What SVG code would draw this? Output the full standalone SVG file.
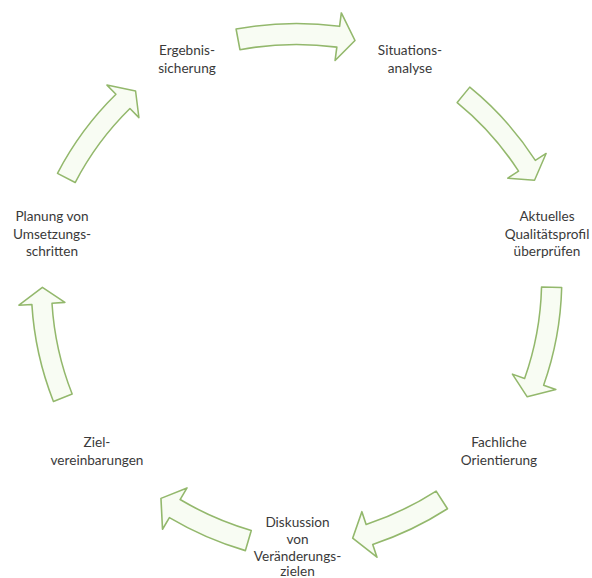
<svg xmlns="http://www.w3.org/2000/svg" xmlns:xlink="http://www.w3.org/1999/xlink" width="592" height="578" viewBox="0 0 592 578">
<style>
.lbl{font-family:Lato,"Liberation Sans",sans-serif;font-size:13.6px;fill:#3a3a3a;text-anchor:middle}
.arr{fill:#f8fcf3;stroke:#93b86c;stroke-width:1.6;stroke-linejoin:round}
</style>
<defs>
<path id="arrL" d="M -56.56,15.71 L -60.40,-4.93 A 330.5 330.5 0 0 1 43.08,-7.68 L 44.84,-21.07 L 58.48,6.5 L 38.58,26.52 L 40.34,13.14 A 309.5 309.5 0 0 0 -56.56,15.71 Z"/>
<path id="arrS" d="M -46.91,14.07 L -50.09,-6.68 A 330.5 330.5 0 0 1 32.71,-8.88 L 34.05,-22.31 L 48.5,5 L 29.30,25.45 L 30.63,12.02 A 309.5 309.5 0 0 0 -46.91,14.07 Z"/>
</defs>
<rect width="592" height="578" fill="#ffffff"/>
<g id="connectors">
<use class="arr" xlink:href="#arrL" href="#arrL" transform="translate(296.5,34)"/>
<use class="arr" xlink:href="#arrL" href="#arrL" transform="translate(503.3,133.9) rotate(49.7) scale(0.95)"/>
<use class="arr" xlink:href="#arrL" href="#arrL" transform="translate(545,343.2) rotate(102) scale(0.96)"/>
<use class="arr" xlink:href="#arrS" href="#arrS" transform="translate(399,523) rotate(156)"/>
<use class="arr" xlink:href="#arrS" href="#arrS" transform="translate(202.8,523.4) rotate(205)"/>
<use class="arr" xlink:href="#arrL" href="#arrL" transform="translate(47,343.6) rotate(-101) scale(0.96)"/>
<use class="arr" xlink:href="#arrL" href="#arrL" transform="translate(96.5,131) rotate(-52) scale(0.95)"/>
</g>
<g id="node-ergebnissicherung">
<text class="lbl" x="187" y="55">Ergebnis-</text>
<text class="lbl" x="187" y="72.5">sicherung</text>
</g>
<g id="node-situationsanalyse">
<text class="lbl" x="410" y="55">Situations-</text>
<text class="lbl" x="410" y="72.5">analyse</text>
</g>
<g id="node-qualitaetsprofil">
<text class="lbl" x="547" y="221">Aktuelles</text>
<text class="lbl" x="547" y="238.5">Qualitätsprofil</text>
<text class="lbl" x="547" y="256">überprüfen</text>
</g>
<g id="node-fachliche-orientierung">
<text class="lbl" x="499" y="447">Fachliche</text>
<text class="lbl" x="499" y="464.5">Orientierung</text>
</g>
<g id="node-diskussion">
<text class="lbl" x="297.5" y="527">Diskussion</text>
<text class="lbl" x="297.5" y="544">von</text>
<text class="lbl" x="297.5" y="561">Veränderungs-</text>
<text class="lbl" x="297.5" y="576">zielen</text>
</g>
<g id="node-zielvereinbarungen">
<text class="lbl" x="97" y="447">Ziel-</text>
<text class="lbl" x="97" y="464.5">vereinbarungen</text>
</g>
<g id="node-planung">
<text class="lbl" x="52" y="221">Planung von</text>
<text class="lbl" x="52" y="238.5">Umsetzungs-</text>
<text class="lbl" x="52" y="256">schritten</text>
</g>
</svg>
